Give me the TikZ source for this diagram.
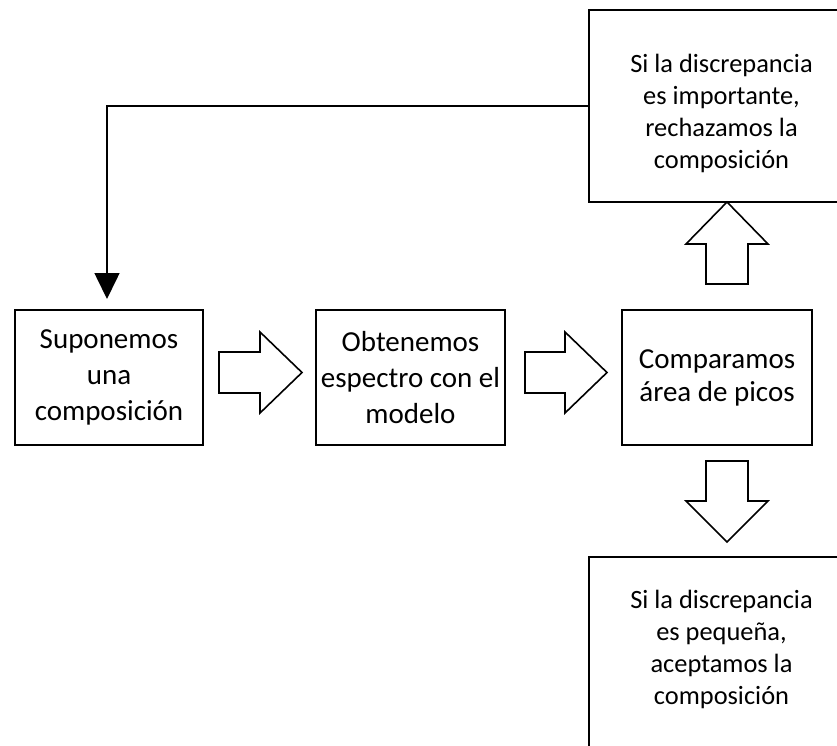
\documentclass[tikz,border=0pt]{standalone}
\usepackage{fontspec}
\setmainfont{Carlito}
\usetikzlibrary{arrows.meta}
\begin{document}
\begin{tikzpicture}[x=1pt,y=-1pt,
  box/.style={draw, line width=1.6pt, inner sep=0pt},
  big/.style={font=\fontsize{29}{36}\selectfont, align=center},
  bigr/.style={font=\fontsize{29}{33}\selectfont, align=center},
  small/.style={font=\fontsize{26.4}{32}\selectfont, align=center},
  blk/.style={draw, line width=1.6pt, fill=white, line join=miter},
  fbline/.style={line width=1.6pt, -{Triangle[width=25pt,length=26pt]}}]
\useasboundingbox (0,0) rectangle (837,746);
\clip (0,0) rectangle (837,746);
% main row
\node[box, big, minimum width=188pt, minimum height=135pt] (s) at (109,377.5) {Suponemos\\una\\composición};
\node[box, big, minimum width=189pt, minimum height=135pt] (o) at (410.5,377.5) {Obtenemos\\espectro con el\\modelo};
\node[box, bigr, minimum width=190pt, minimum height=135pt] (c) at (717,377.5) {Comparamos\\área de picos};
% top and bottom boxes (cut by the page edge)
\node[box, minimum width=265pt, minimum height=192pt] (top) at (721.5,106) {};
\node[small] (toptext) at (721.5,113) {Si la discrepancia\\es importante,\\rechazamos la\\composición};
\node[box, minimum width=265pt, minimum height=192pt] (bot) at (721.5,653) {};
\node[small] (bottext) at (721.5,649) {Si la discrepancia\\es pequeña,\\aceptamos la\\composición};
% block arrows
\draw[blk] (219,352) -- (260,352) -- (260,332) -- (302,372.5) -- (260,413) -- (260,393) -- (219,393) -- cycle;
\draw[blk] (525,352) -- (565,352) -- (565,332) -- (607,372.5) -- (565,413) -- (565,393) -- (525,393) -- cycle;
\draw[blk] (706,284) -- (706,244) -- (686,244) -- (727,202) -- (768,244) -- (748,244) -- (748,284) -- cycle;
\draw[blk] (706,461) -- (706,501) -- (686,501) -- (727,542) -- (768,501) -- (748,501) -- (748,461) -- cycle;
% feedback
\coordinate (fb) at (107,299);
\draw[fbline] (top.west) -| (fb);
\end{tikzpicture}
\end{document}
